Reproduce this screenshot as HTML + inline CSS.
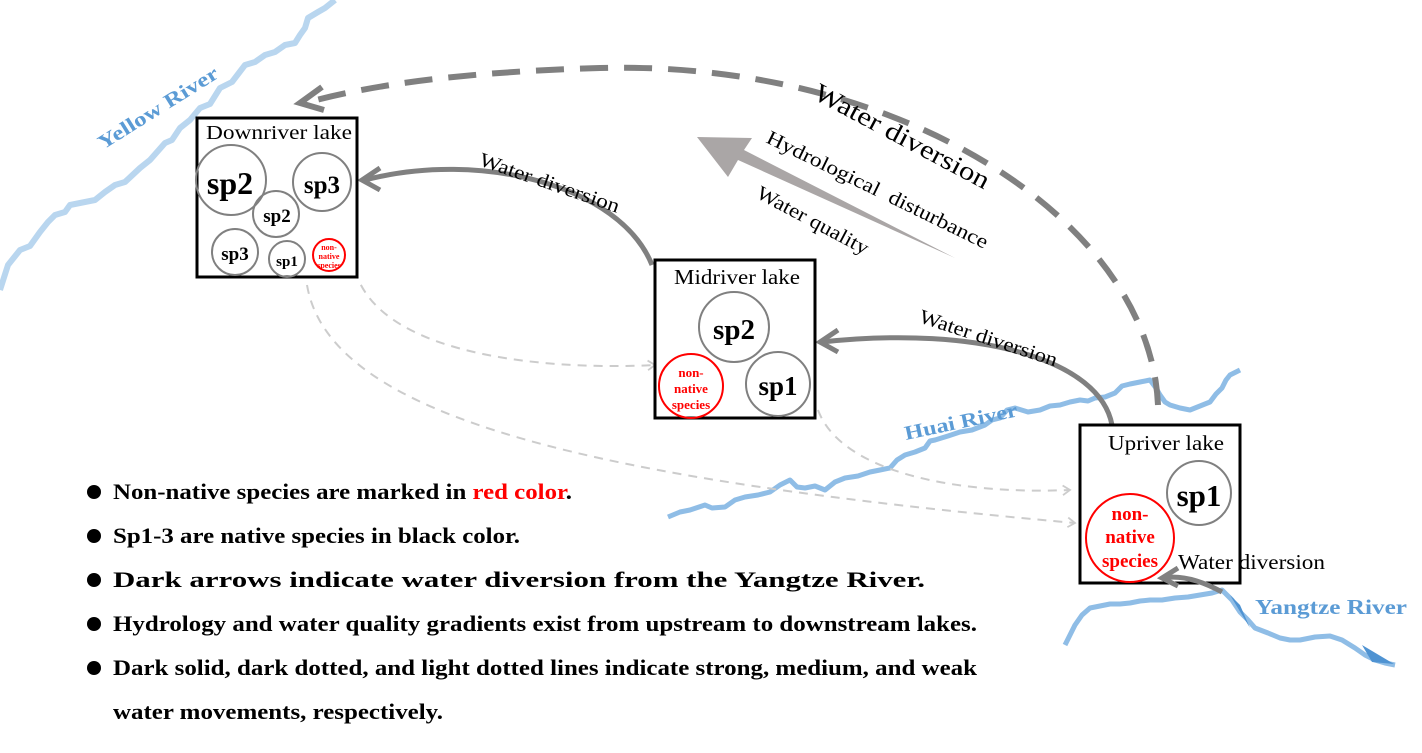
<!DOCTYPE html>
<html><head><style>body{margin:0;background:#fff}svg{display:block}text{font-family:"Liberation Serif",serif}</style></head><body>
<svg width="1422" height="753" viewBox="0 0 1422 753" xmlns="http://www.w3.org/2000/svg">
<defs>
<marker id="al" viewBox="0 0 10 10" refX="8" refY="5" markerWidth="6" markerHeight="6" orient="auto"><path d="M2,1 L8,5 L2,9" fill="none" stroke="#ccc" stroke-width="1.5"/></marker>
</defs>
<g fill="none" stroke="#b9d6ef" stroke-width="6" stroke-linejoin="round">
<polyline points="0,290 8,265 20,250 30,246 40,232 48,222 55,215 65,212 70,205 80,203 95,200 105,192 115,185 125,182 140,168 150,160 165,143 172,140 180,128 190,120 200,108 210,104 220,88 232,82 245,65 255,62 265,55 275,52 285,45 295,43 300,35 305,28 308,18 318,12 325,8 335,0"/>
</g>
<g fill="none" stroke="#8fbde6" stroke-width="5" stroke-linejoin="round">
<polyline points="668,517 680,512 690,510 705,505 712,508 725,507 735,500 745,497 758,495 770,492 780,485 790,480 797,487 805,488 815,486 825,490 835,482 845,478 858,476 870,472 880,470 890,468 897,460 905,455 915,452 925,448 930,441 935,440 948,436 960,432 972,430 985,425 992,420 1000,418 1007,410 1015,408 1028,412 1040,410 1050,406 1060,405 1070,402 1080,400 1088,401 1095,398 1105,397 1115,393 1122,386 1130,384 1140,382 1150,380 1156,388 1160,395 1165,402 1170,405 1180,408 1190,410 1200,406 1210,402 1216,394 1222,388 1226,380 1230,375 1240,370"/>
<polyline points="1065,645 1070,635 1075,625 1082,615 1090,608 1100,606 1110,604 1120,604 1130,603 1140,601 1150,600 1162,600 1175,598 1188,597 1200,595 1212,593 1222,590 1232,600 1240,612 1248,620 1255,628 1268,633 1280,638 1290,640 1300,640 1315,637 1330,636 1342,640 1355,648 1365,655 1375,660 1385,663 1395,665"/>
</g>
<path d="M1230,595 L1250,628 L1240,605Z M1362,645 L1394,664 L1372,662Z" fill="#4f93d2"/>
<text transform="translate(103,150) rotate(-32)" font-size="20" font-weight="bold" fill="#5b9bd5" textLength="138" lengthAdjust="spacingAndGlyphs">Yellow River</text>
<text transform="translate(906,440) rotate(-12)" font-size="20" font-weight="bold" fill="#5b9bd5" textLength="115" lengthAdjust="spacingAndGlyphs">Huai River</text>
<text x="1255" y="614" font-size="21" font-weight="bold" fill="#5b9bd5" textLength="152" lengthAdjust="spacingAndGlyphs">Yangtze River</text>
<g fill="none" stroke="#ccc" stroke-width="2" stroke-dasharray="9 7">
<path d="M307,285 C330,420 600,480 1075,523" marker-end="url(#al)"/>
<path d="M355,270 C380,360 560,370 655,365" marker-end="url(#al)"/>
<path d="M818,410 C840,470 950,495 1070,490" marker-end="url(#al)"/>
</g>
<path d="M1158,405 C1150,220 900,60 600,68 C460,72 370,85 305,103" fill="none" stroke="#808080" stroke-width="6" stroke-dasharray="28 16"/>
<path d="M322,87 L300,103 L324,110" fill="none" stroke="#808080" stroke-width="6"/>
<g fill="none" stroke="#808080" stroke-width="5">
<path d="M652,265 C620,185 480,150 365,180"/>
<path d="M380,168 L362,180 L380,190"/>
<path d="M1112,425 C1100,360 980,325 822,342"/>
<path d="M838,330 L820,342 L838,352"/>
</g>
<polygon points="697,137 752,138 744,150 955,258 738,160 728,177" fill="#aaa6a6"/>
<text transform="translate(812,98) rotate(28)" font-size="26" textLength="195" lengthAdjust="spacingAndGlyphs">Water diversion</text>
<text transform="translate(765,142) rotate(26)" font-size="20" textLength="244" lengthAdjust="spacingAndGlyphs">Hydrological&#160; disturbance</text>
<text transform="translate(755,197) rotate(28)" font-size="20" textLength="124" lengthAdjust="spacingAndGlyphs">Water quality</text>
<text transform="translate(478,165) rotate(19)" font-size="20" textLength="147" lengthAdjust="spacingAndGlyphs">Water diversion</text>
<text transform="translate(918,322) rotate(18)" font-size="20" textLength="144" lengthAdjust="spacingAndGlyphs">Water diversion</text>
<g fill="#fff" stroke="#000" stroke-width="3">
<rect x="197" y="118" width="160" height="159"/>
<rect x="655" y="260" width="160" height="158"/>
<rect x="1080" y="425" width="160" height="158"/>
</g>
<g fill="none" stroke="#808080" stroke-width="2">
<circle cx="231" cy="180" r="35"/><circle cx="322" cy="182" r="29"/><circle cx="276" cy="214" r="23"/>
<circle cx="235" cy="252" r="23"/><circle cx="287" cy="259" r="18"/>
<circle cx="734" cy="327" r="35"/><circle cx="778" cy="384" r="32"/>
<circle cx="1199" cy="493" r="32"/>
</g>
<g fill="none" stroke="#f00" stroke-width="2">
<circle cx="329" cy="255" r="16"/><circle cx="691" cy="386" r="32"/><circle cx="1130" cy="538" r="44"/>
</g>
<g text-anchor="middle" font-weight="bold">
<text x="230" y="194" font-size="32">sp2</text><text x="322" y="193" font-size="25">sp3</text><text x="277" y="222" font-size="19">sp2</text>
<text x="235" y="260" font-size="19">sp3</text><text x="287" y="266" font-size="15">sp1</text>
<text x="734" y="339" font-size="29">sp2</text><text x="778" y="395" font-size="27">sp1</text>
<text x="1199" y="506" font-size="31">sp1</text>
<g fill="#f00"><text x="329" y="250" font-size="8">non-</text><text x="329" y="259" font-size="8">native</text><text x="329" y="268" font-size="8">species</text>
<text x="691" y="377" font-size="13">non-</text><text x="691" y="393" font-size="13">native</text><text x="691" y="409" font-size="13">species</text>
<text x="1130" y="520" font-size="19">non-</text><text x="1130" y="543" font-size="19">native</text><text x="1130" y="567" font-size="19">species</text></g>
</g>
<text x="206" y="139" font-size="20" textLength="146" lengthAdjust="spacingAndGlyphs">Downriver lake</text>
<text x="674" y="284" font-size="21" textLength="126" lengthAdjust="spacingAndGlyphs">Midriver lake</text>
<text x="1108" y="450" font-size="21" textLength="116" lengthAdjust="spacingAndGlyphs">Upriver lake</text>
<text x="1178" y="569" font-size="21" textLength="147" lengthAdjust="spacingAndGlyphs">Water diversion</text>
<g fill="none" stroke="#808080" stroke-width="5">
<path d="M1222,592 C1200,580 1180,575 1163,578"/>
<path d="M1178,568 L1162,578 L1178,586"/>
</g>
<g font-size="22" font-weight="bold">
<circle cx="94" cy="492" r="7"/><text x="113" y="499" textLength="459" lengthAdjust="spacingAndGlyphs">Non-native species are marked in <tspan fill="#f00">red color</tspan>.</text>
<circle cx="94" cy="536" r="7"/><text x="113" y="543" textLength="407" lengthAdjust="spacingAndGlyphs">Sp1-3 are native species in black color.</text>
<circle cx="94" cy="580" r="7"/><text x="113" y="587" textLength="812" lengthAdjust="spacingAndGlyphs">Dark arrows indicate water diversion from the Yangtze River.</text>
<circle cx="94" cy="624" r="7"/><text x="113" y="631" textLength="864" lengthAdjust="spacingAndGlyphs">Hydrology and water quality gradients exist from upstream to downstream lakes.</text>
<circle cx="94" cy="668" r="7"/><text x="113" y="675" textLength="864" lengthAdjust="spacingAndGlyphs">Dark solid, dark dotted, and light dotted lines indicate strong, medium, and weak</text>
<text x="113" y="719" textLength="330" lengthAdjust="spacingAndGlyphs">water movements, respectively.</text>
</g>
</svg>
</body></html>
